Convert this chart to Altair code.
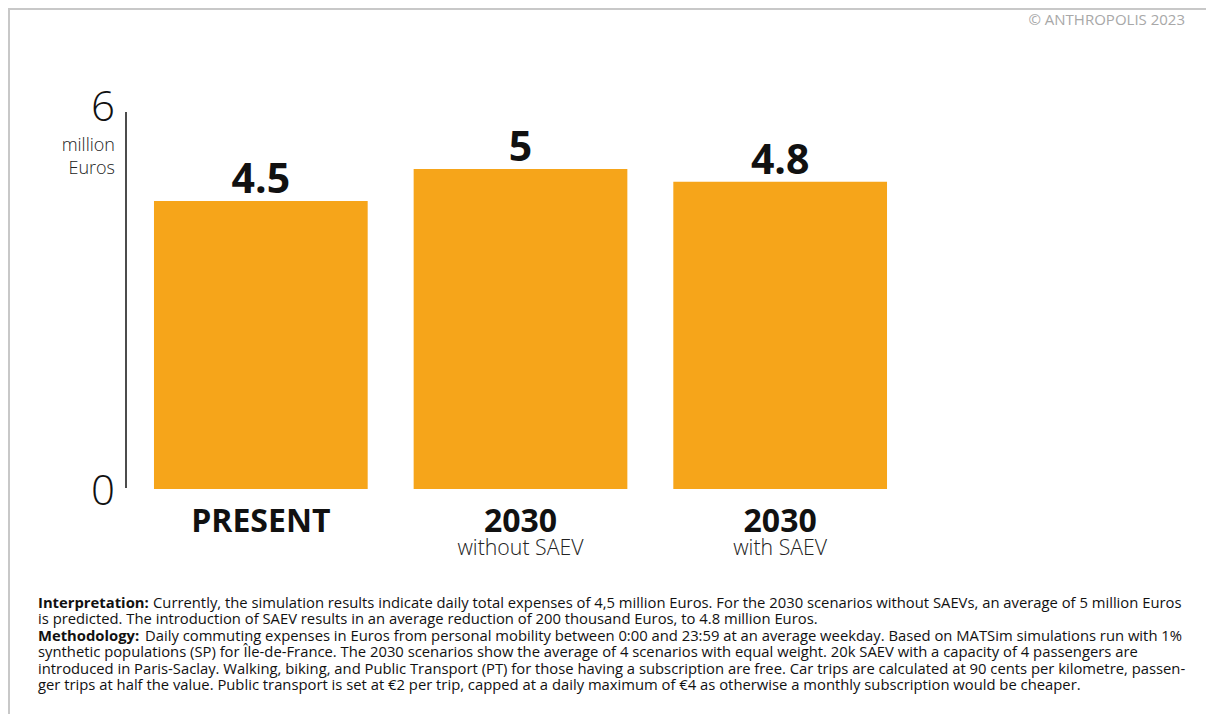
import altair as alt
import pandas as pd

# ---------------- data ----------------
cat_keys = ["present", "2030_without", "2030_with"]
cat_line1 = ["PRESENT", "2030", "2030"]
cat_line2 = ["", "without SAEV", "with SAEV"]
values = [4.5, 5.0, 4.8]
value_labels = ["4.5", "5", "4.8"]
y_ticks = [0, 6]
y_tick_labels = ["0", "6"]
unit_lines = ["million", "Euros"]
copyright_text = "© ANTHROPOLIS 2023"
foot_bold = ["Interpretation:", "", "Methodology:", "", "", ""]
foot_rest = [
    "Currently, the simulation results indicate daily total expenses of 4,5 million Euros. For the 2030 scenarios without SAEVs, an average of 5 million Euros",
    "is predicted. The introduction of SAEV results in an average reduction of 200 thousand Euros, to 4.8 million Euros.",
    "Daily commuting expenses in Euros from personal mobility between 0:00 and 23:59 at an average weekday. Based on MATSim simulations run with 1%",
    "synthetic populations (SP) for Île-de-France. The 2030 scenarios show the average of 4 scenarios with equal weight. 20k SAEV with a capacity of 4 passengers are",
    "introduced in Paris-Saclay. Walking, biking, and Public Transport (PT) for those having a subscription are free. Car trips are calculated at 90 cents per kilometre, passen-",
    "ger trips at half the value. Public transport is set at €2 per trip, capped at a daily maximum of €4 as otherwise a monthly subscription would be cheaper.",
]

# ---------------- layout constants ----------------
W, H = 779, 384
PAD_L, PAD_T = 123, 97
TOTAL_W, TOTAL_H = 1198, 706
ORANGE = "#F6A51A"
FONT = "Open Sans"
FOOT_SIZE = 14.8
FOOT_STEP = 16.4

bars_df = pd.DataFrame({"key": cat_keys, "value": values, "label": value_labels,
                        "l1": cat_line1, "l2": cat_line2})
ticks_df = pd.DataFrame({"tick": y_ticks, "tlabel": y_tick_labels})

xs = alt.Scale(domain=cat_keys, paddingInner=0.177, paddingOuter=0.0885)
ys = alt.Scale(domain=[0, 6], nice=False, zero=True)
X = alt.X("key:N", scale=xs, axis=None, sort=cat_keys)

base = alt.Chart(bars_df)

bars = base.mark_bar(color=ORANGE).encode(
    x=X, y=alt.Y("value:Q", scale=ys, axis=None)
)
vlabels = base.mark_text(baseline="alphabetic", dy=-8, fontSize=41, fontWeight="bold",
                         font=FONT, color="#111111").encode(
    x=X, y=alt.Y("value:Q", scale=ys, axis=None), text="label:N"
)
cl1 = base.mark_text(baseline="alphabetic", fontSize=32, fontWeight="bold",
                     font=FONT, color="#111111").encode(
    x=X, y=alt.value(427), text="l1:N"
)
cl2 = base.mark_text(baseline="alphabetic", fontSize=21.3, fontWeight=300,
                     font=FONT, color="#222222").encode(
    x=X, y=alt.value(450), text="l2:N"
)
tick_text = alt.Chart(ticks_df).mark_text(
    align="right", baseline="middle", dy=3, fontSize=42, fontWeight=300,
    font=FONT, color="#111111"
).encode(x=alt.value(-16), y=alt.Y("tick:Q", scale=ys, axis=None), text="tlabel:N")

layers = [bars, vlabels, cl1, cl2, tick_text]

# unit label
for i, t in enumerate(unit_lines):
    layers.append(
        alt.Chart(pd.DataFrame({"t": [t]})).mark_text(
            align="right", baseline="alphabetic", fontSize=18, fontWeight=300,
            font=FONT, color="#222222"
        ).encode(x=alt.value(-16), y=alt.value(46 + 23 * i), text="t:N")
    )

# y axis line
layers.append(
    alt.Chart(pd.DataFrame({"a": [0]})).mark_rule(color="#111111", strokeWidth=1.5).encode(
        x=alt.value(-5), y=alt.value(7), y2=alt.value(383)
    )
)
# frame (top and left)
layers.append(
    alt.Chart(pd.DataFrame({"a": [0]})).mark_rule(color="#c8c8c8", strokeWidth=2).encode(
        x=alt.value(-PAD_L), x2=alt.value(TOTAL_W - PAD_L), y=alt.value(-PAD_T + 1)
    )
)
layers.append(
    alt.Chart(pd.DataFrame({"a": [0]})).mark_rule(color="#c8c8c8", strokeWidth=2).encode(
        x=alt.value(-PAD_L + 1), y=alt.value(-PAD_T), y2=alt.value(TOTAL_H - PAD_T)
    )
)
# copyright
layers.append(
    alt.Chart(pd.DataFrame({"t": [copyright_text]})).mark_text(
        align="right", baseline="alphabetic", fontSize=15, font=FONT, color="#a8a8a8"
    ).encode(x=alt.value(1054), y=alt.value(-80), text="t:N")
)

# footnote
rest_offsets = [115, 0, 107, 0, 0, 0]
for i, (b, r) in enumerate(zip(foot_bold, foot_rest)):
    yv = 503 + FOOT_STEP * i
    if b:
        layers.append(
            alt.Chart(pd.DataFrame({"t": [b]})).mark_text(
                align="left", baseline="alphabetic", fontSize=FOOT_SIZE, fontWeight="bold",
                font=FONT, color="#111111"
            ).encode(x=alt.value(-93), y=alt.value(yv), text="t:N")
        )
    layers.append(
        alt.Chart(pd.DataFrame({"t": [r]})).mark_text(
            align="left", baseline="alphabetic", fontSize=FOOT_SIZE,
            font=FONT, color="#111111"
        ).encode(x=alt.value(-93 + rest_offsets[i]), y=alt.value(yv), text="t:N")
    )

chart = alt.layer(*layers).properties(
    width=W, height=H,
    padding={"left": PAD_L, "top": PAD_T, "right": TOTAL_W - PAD_L - W,
             "bottom": TOTAL_H - PAD_T - H},
    autosize=alt.AutoSizeParams(type="none"),
).configure(font=FONT).configure_view(strokeWidth=0, stroke="transparent")

chart.save("out.html", embed_options={"renderer": "svg", "actions": False})
